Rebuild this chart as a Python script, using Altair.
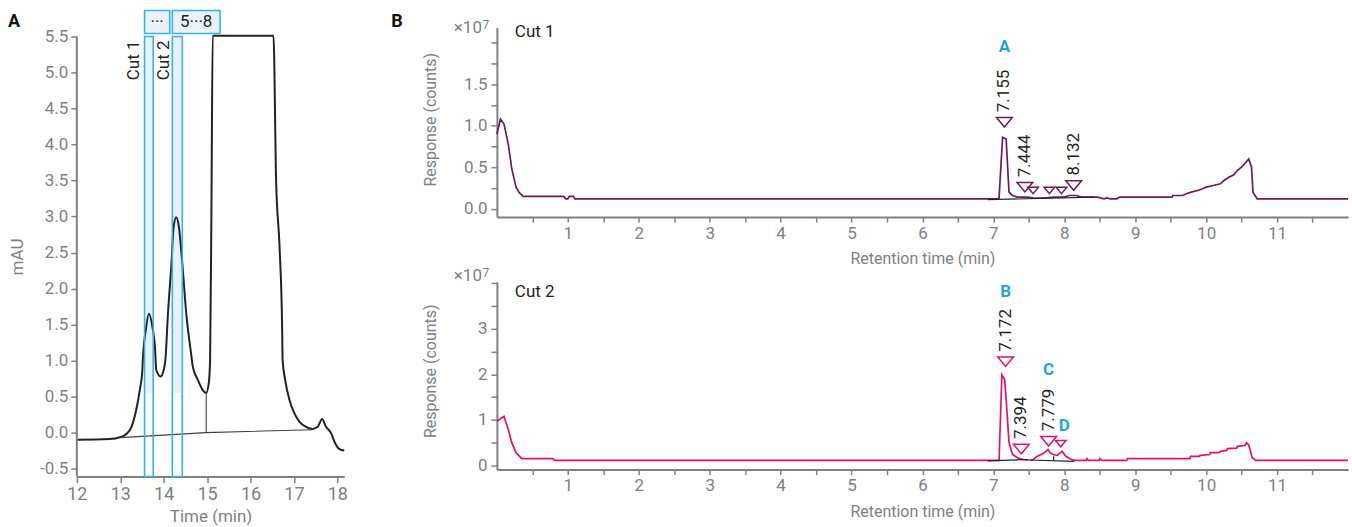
import altair as alt
import pandas as pd

FONT = "Roboto"
GRAY = "#7d8085"
INK = "#222222"
CYAN = "#1fa4de"
CUT_STROKE = "#33b3ea"
CUT_FILL = "#e9f2fb"
CUT1_COLOR = "#6e1a5c"
CUT2_COLOR = "#e3106e"
BASE_INK = "#1c2233"

# ---------------- Panel A: first-dimension UV trace ----------------
uv_time = [12.00, 12.76, 12.99, 13.14, 13.26, 13.37, 13.45, 13.51, 13.52, 13.59,
           13.66, 13.74, 13.80, 13.83, 13.93, 14.00, 14.04, 14.10, 14.18, 14.23,
           14.29, 14.35, 14.43, 14.52, 14.64, 14.67, 14.79, 14.90, 14.98, 15.04,
           15.07, 15.10, 15.13, 16.53, 16.59, 16.67, 16.73, 16.74, 16.80, 16.90,
           17.01, 17.13, 17.28, 17.43, 17.55, 17.65, 17.74, 17.86, 17.93, 18.05,
           18.16]
uv_mau = [-0.10, -0.09, -0.065, -0.02, 0.08, 0.32, 0.59, 0.87, 1.01, 1.43,
          1.65, 1.47, 1.19, 0.87, 0.78, 0.87, 1.01, 1.66, 2.35, 2.86,
          2.99, 2.86, 2.35, 1.66, 1.06, 0.92, 0.73, 0.59, 0.55, 0.69,
          1.01, 3.05, 5.51, 5.51, 3.51, 2.58, 1.43, 1.01, 0.73, 0.45,
          0.27, 0.15, 0.08, 0.05, 0.08, 0.19, 0.08, -0.01, -0.12, -0.23,
          -0.25]

uv_base_time = [13.00, 14.98, 17.43]
uv_base_mau = [-0.07, 0.00, 0.04]
uv_drop_time = [14.98]
uv_drop_lo = [0.00]
uv_drop_hi = [0.55]

cut_names = ["Cut 1", "Cut 2"]
cut_start = [13.56, 14.20]
cut_end = [13.76, 14.43]
cut_name_x = [13.32, 14.01]

frac_labels = ["\u00b7\u00b7\u00b7", "5\u00b7\u00b7\u00b78"]
frac_start = [13.56, 14.20]
frac_end = [14.14, 15.30]

a_x_ticks = [12, 13, 14, 15, 16, 17, 18]
a_y_ticks = [-0.5, 0.0, 0.5, 1.0, 1.5, 2.0, 2.5, 3.0, 3.5, 4.0, 4.5, 5.0, 5.5]

# ---------------- Panel B: heart-cut MS traces ----------------
c1_time = [0.00, 0.05, 0.10, 0.16, 0.21, 0.27, 0.31, 0.37, 0.94, 0.97,
           1.00, 1.02, 1.08, 1.10, 7.06, 7.08, 7.13, 7.18, 7.22, 7.27,
           7.34, 7.48, 7.57, 7.71, 7.85, 8.00, 8.07, 8.17, 8.24, 8.47,
           8.56, 8.60, 8.65, 8.70, 8.74, 8.78, 9.52, 9.53, 9.67, 9.72,
           9.79, 9.88, 9.95, 10.00, 10.10, 10.20, 10.25, 10.32, 10.39, 10.44,
           10.52, 10.60, 10.64, 10.66, 10.72, 12.00]
c1_resp = [0.90, 1.08, 1.02, 0.78, 0.48, 0.26, 0.20, 0.15, 0.15, 0.12,
           0.12, 0.15, 0.15, 0.12, 0.12, 0.13, 0.86, 0.84, 0.20, 0.16,
           0.14, 0.14, 0.13, 0.13, 0.14, 0.14, 0.16, 0.16, 0.14, 0.14,
           0.12, 0.13, 0.12, 0.12, 0.12, 0.14, 0.14, 0.16, 0.16, 0.18,
           0.20, 0.22, 0.24, 0.26, 0.28, 0.30, 0.34, 0.38, 0.41, 0.46,
           0.52, 0.60, 0.50, 0.20, 0.12, 0.12]
c1_base_seg = [1, 1]
c1_base_time = [6.92, 8.42]
c1_base_resp = [0.11, 0.14]
c1_peak_rt = [7.155, 7.444, 8.132]
c1_peak_mark = [1.04, 0.26, 0.28]
c1_minor_rt = [7.56, 7.79, 7.96]
c1_minor_mark = [0.22, 0.22, 0.22]
c1_letters = ["A"]
c1_letter_rt = [7.155]
c1_letter_y = [1.94]

c2_time = [0.00, 0.10, 0.16, 0.21, 0.27, 0.35, 0.79, 0.81, 7.08, 7.12,
           7.16, 7.19, 7.22, 7.27, 7.35, 7.45, 7.55, 7.62, 7.70, 7.74,
           7.77, 7.80, 7.84, 7.90, 7.97, 8.02, 8.10, 8.15, 8.31, 8.32,
           8.34, 8.49, 8.50, 8.53, 8.88, 8.89, 9.77, 9.78, 9.90, 9.92,
           10.05, 10.06, 10.18, 10.20, 10.29, 10.30, 10.43, 10.44, 10.55, 10.57,
           10.60, 10.65, 10.70, 12.00]
c2_resp = [0.97, 1.08, 0.79, 0.50, 0.28, 0.15, 0.15, 0.11, 0.11, 1.99,
           1.88, 1.23, 0.50, 0.24, 0.16, 0.12, 0.12, 0.20, 0.26, 0.31,
           0.35, 0.28, 0.24, 0.22, 0.31, 0.20, 0.13, 0.11, 0.11, 0.15,
           0.11, 0.11, 0.15, 0.11, 0.11, 0.15, 0.15, 0.20, 0.20, 0.22,
           0.24, 0.28, 0.28, 0.31, 0.33, 0.37, 0.38, 0.42, 0.44, 0.50,
           0.45, 0.17, 0.11, 0.11]
c2_base_seg = [1, 1, 2, 2, 3, 3]
c2_base_time = [6.92, 7.49, 7.52, 8.14, 7.85, 7.85]
c2_base_resp = [0.10, 0.13, 0.12, 0.09, 0.11, 0.20]
c2_peak_rt = [7.172, 7.394, 7.779]
c2_peak_mark = [2.28, 0.36, 0.53]
c2_minor_rt = [7.95]
c2_minor_mark = [0.48]
c2_letters = ["B", "C", "D"]
c2_letter_rt = [7.172, 7.779, 8.00]
c2_letter_y = [3.81, 2.10, 0.875]

b_x_ticks = [0.5, 1, 1.5, 2, 2.5, 3, 3.5, 4, 4.5, 5, 5.5, 6, 6.5, 7, 7.5, 8,
             8.5, 9, 9.5, 10, 10.5, 11, 11.5]
b1_y_ticks = [0.0, 0.25, 0.5, 0.75, 1.0, 1.25, 1.5, 1.75, 2.0]
b2_y_ticks = [0.0, 0.5, 1.0, 1.5, 2.0, 2.5, 3.0, 3.5, 4.0]

TRIANGLE = "M -1 -0.6 L 1 -0.6 L 0 0.6 Z"


def axis(**kw):
    base = dict(labelFont=FONT, titleFont=FONT, labelColor=GRAY, titleColor=GRAY,
                domainColor=GRAY, tickColor=GRAY, domainWidth=2, tickWidth=1.5,
                tickSize=6, labelFontSize=17, titleFontSize=17,
                titleFontWeight="normal", labelFlush=False, labelOverlap=False,
                grid=False, labelPadding=3)
    base.update(kw)
    return alt.Axis(**base)


# ---------------- Panel A construction ----------------
W_A, H_A = 268, 450
xA = alt.Scale(domain=[12, 18.16], nice=False, zero=False)
yA = alt.Scale(domain=[-0.61, 5.625], nice=False, zero=False)
xA_axis = axis(values=a_x_ticks, format="d", title="Time (min)", titleY=40,
               titleBaseline="middle", labelFontSize=18)
yA_axis = axis(values=a_y_ticks, domain=False,
               labelExpr="datum.value < 0 ? '-' + format(-datum.value, '.1f') : format(datum.value, '.1f')",
               title="mAU", titleAngle=270, titleX=-59, titleY=229.5,
               titleBaseline="middle", titleAlign="center")


def XA(field):
    return alt.X(field, type="quantitative", scale=xA, axis=xA_axis)


def YA(field):
    return alt.Y(field, type="quantitative", scale=yA, axis=yA_axis)


def YA_datum(v):
    return alt.Y(datum=v, type="quantitative", scale=yA, axis=yA_axis)


uv_df = pd.DataFrame({"t": uv_time, "mau": uv_mau, "i": range(len(uv_time))})
uv_base_df = pd.DataFrame({"t": uv_base_time, "mau": uv_base_mau})
uv_drop_df = pd.DataFrame({"t": uv_drop_time, "lo": uv_drop_lo, "hi": uv_drop_hi})
cut_df = pd.DataFrame({"name": cut_names, "start": cut_start, "end": cut_end,
                       "name_x": cut_name_x})
frac_df = pd.DataFrame({"label": frac_labels, "start": frac_start, "end": frac_end})
one_row = alt.Data(values=[{"k": 0}])

a_cut_fill = alt.Chart(cut_df).mark_rect(fill=CUT_FILL).encode(
    x=XA("start"), x2="end", y=YA_datum(5.5), y2=alt.datum(0.55))
a_line = alt.Chart(uv_df).mark_line(color=INK, strokeWidth=2, interpolate="monotone").encode(
    x=XA("t"), y=YA("mau"), order="i:Q")
a_base = alt.Chart(uv_base_df).mark_line(color="#3a4150", strokeWidth=1.1).encode(
    x=XA("t"), y=YA("mau"))
a_drop = alt.Chart(uv_drop_df).mark_rule(color="#3a4150", strokeWidth=1.1).encode(
    x=XA("t"), y=YA("lo"), y2="hi")
a_cut_box = alt.Chart(cut_df).mark_rect(filled=False, stroke=CUT_STROKE, strokeWidth=1.6).encode(
    x=XA("start"), x2="end", y=YA_datum(5.5), y2=alt.value(H_A))
a_frac_box = alt.Chart(frac_df).mark_rect(fill=CUT_FILL, stroke=CUT_STROKE, strokeWidth=1.6).encode(
    x=XA("start"), x2="end", y=alt.value(-17), y2=alt.value(6))
a_frac_text = alt.Chart(frac_df).transform_calculate(
    mid="(datum.start + datum.end) / 2").mark_text(
    font=FONT, fontSize=17, color=INK, baseline="middle").encode(
    x=XA("mid"), y=alt.value(-5.5), text="label:N")
a_cut_text = alt.Chart(cut_df).mark_text(
    font=FONT, fontSize=17, color=INK, angle=270, align="right", baseline="middle").encode(
    x=XA("name_x"), y=alt.value(13), text="name:N")
a_yrule = alt.Chart(one_row).mark_rule(color=GRAY, strokeWidth=2).encode(
    x=alt.value(0), y=YA_datum(5.5), y2=alt.value(H_A))
a_letter = alt.Chart(one_row).mark_text(
    font=FONT, fontSize=18, fontWeight="bold", color="#111111", align="left",
    baseline="alphabetic", text="A").encode(x=alt.value(-69), y=alt.value(-1))
a_anchor = alt.Chart(one_row).mark_rect(opacity=0).encode(
    x=alt.value(-77), x2=alt.value(-76), y=alt.value(-27), y2=alt.value(-26))

panel_a = alt.layer(a_cut_fill, a_line, a_base, a_drop, a_cut_box, a_frac_box,
                    a_frac_text, a_cut_text, a_yrule, a_letter, a_anchor).properties(
    width=W_A, height=H_A)

# ---------------- Panel B construction ----------------
W_B = 853
xB = alt.Scale(domain=[0, 12], nice=False, zero=False)
xB_axis = axis(values=b_x_ticks, tickSize=5,
               labelExpr="datum.value % 1 == 0 ? format(datum.value, 'd') : ''",
               title="Retention time (min)", titleY=42, titleBaseline="middle",
               titleFontSize=16)


def response_panel(t, r, color, seg, seg_t, seg_r, peak_rt, peak_mark, minor_rt,
                   minor_mark, letters, letter_rt, letter_y, ydomain, yticks,
                   ylabel_expr, height, cut_name, cut_name_y, exp_y, title_y,
                   panel_letter=None):
    yS = alt.Scale(domain=ydomain, nice=False, zero=False)
    y_axis = axis(values=yticks, labelExpr=ylabel_expr, labelPadding=4,
                  title="Response (counts)", titleAngle=270, titleX=-67,
                  titleY=title_y, titleBaseline="middle", titleAlign="center",
                  titleFontSize=16)

    def X(field):
        return alt.X(field, type="quantitative", scale=xB, axis=xB_axis)

    def Y(field):
        return alt.Y(field, type="quantitative", scale=yS, axis=y_axis)

    trace_df = pd.DataFrame({"t": t, "r": r, "i": range(len(t))})
    seg_df = pd.DataFrame({"seg": seg, "t": seg_t, "r": seg_r, "i": range(len(seg))})
    peak_df = pd.DataFrame({"t": peak_rt, "m": peak_mark})
    minor_df = pd.DataFrame({"t": minor_rt, "m": minor_mark})
    letter_df = pd.DataFrame({"L": letters, "t": letter_rt, "y": letter_y})

    layers = [
        alt.Chart(trace_df).mark_line(color=color, strokeWidth=1.7).encode(
            x=X("t"), y=Y("r"), order="i:Q"),
        alt.Chart(seg_df).mark_line(color=BASE_INK, strokeWidth=1.2).encode(
            x=X("t"), y=Y("r"), detail="seg:N", order="i:Q"),
        alt.Chart(peak_df).mark_point(shape=TRIANGLE, filled=False, size=250,
                                      strokeWidth=1.5, color=color, opacity=1).encode(
            x=X("t"), y=Y("m")),
        alt.Chart(minor_df).mark_point(shape=TRIANGLE, filled=False, size=115,
                                       strokeWidth=1.5, color=color, opacity=1).encode(
            x=X("t"), y=Y("m")),
        alt.Chart(peak_df).mark_text(font=FONT, fontSize=17, color=INK, angle=270,
                                     align="left", baseline="middle", dx=10).encode(
            x=X("t"), y=Y("m"), text=alt.Text("t:Q", format=".3f")),
        alt.Chart(letter_df).mark_text(font=FONT, fontSize=17, fontWeight="bold",
                                       color=CYAN, baseline="middle").encode(
            x=X("t"), y=Y("y"), text="L:N"),
        alt.Chart(one_row).mark_text(font=FONT, fontSize=17, color=INK, align="left",
                                     baseline="middle", text=cut_name).encode(
            x=alt.value(18), y=alt.value(cut_name_y)),
        alt.Chart(one_row).mark_text(font=FONT, fontSize=17, color=GRAY, align="right",
                                     baseline="alphabetic", text="\u00d710").encode(
            x=alt.value(-15), y=alt.value(exp_y)),
        alt.Chart(one_row).mark_text(font=FONT, fontSize=12, color=GRAY, align="left",
                                     baseline="alphabetic", text="7").encode(
            x=alt.value(-14.5), y=alt.value(exp_y - 4)),
    ]
    if panel_letter:
        layers.append(alt.Chart(one_row).mark_text(
            font=FONT, fontSize=18, fontWeight="bold", color="#111111", align="left",
            baseline="alphabetic", text=panel_letter).encode(
            x=alt.value(-106), y=alt.value(-1)))
    return alt.layer(*layers).properties(width=W_B, height=height)


b1 = response_panel(
    c1_time, c1_resp, CUT1_COLOR, c1_base_seg, c1_base_time, c1_base_resp,
    c1_peak_rt, c1_peak_mark, c1_minor_rt, c1_minor_mark,
    c1_letters, c1_letter_rt, c1_letter_y,
    [-0.1, 2.18], b1_y_ticks,
    "datum.value <= 1.5 && (datum.value * 2) % 1 == 0 ? format(datum.value, '.1f') : ''",
    190, "Cut 1", 5, 5, 92, panel_letter="B")

b2 = response_panel(
    c2_time, c2_resp, CUT2_COLOR, c2_base_seg, c2_base_time, c2_base_resp,
    c2_peak_rt, c2_peak_mark, c2_minor_rt, c2_minor_mark,
    c2_letters, c2_letter_rt, c2_letter_y,
    [-0.09, 4.03], b2_y_ticks,
    "datum.value <= 3 && datum.value % 1 == 0 ? format(datum.value, 'd') : ''",
    188, "Cut 2", 10, -1, 89)

panel_b = alt.vconcat(b1, b2, spacing=65, bounds="flush")

chart = alt.hconcat(panel_a, panel_b, spacing=153, bounds="flush", padding=0,
                    background="white").configure_view(stroke="transparent", strokeWidth=0)

chart.save("out.html", embed_options={"renderer": "svg", "actions": False})
